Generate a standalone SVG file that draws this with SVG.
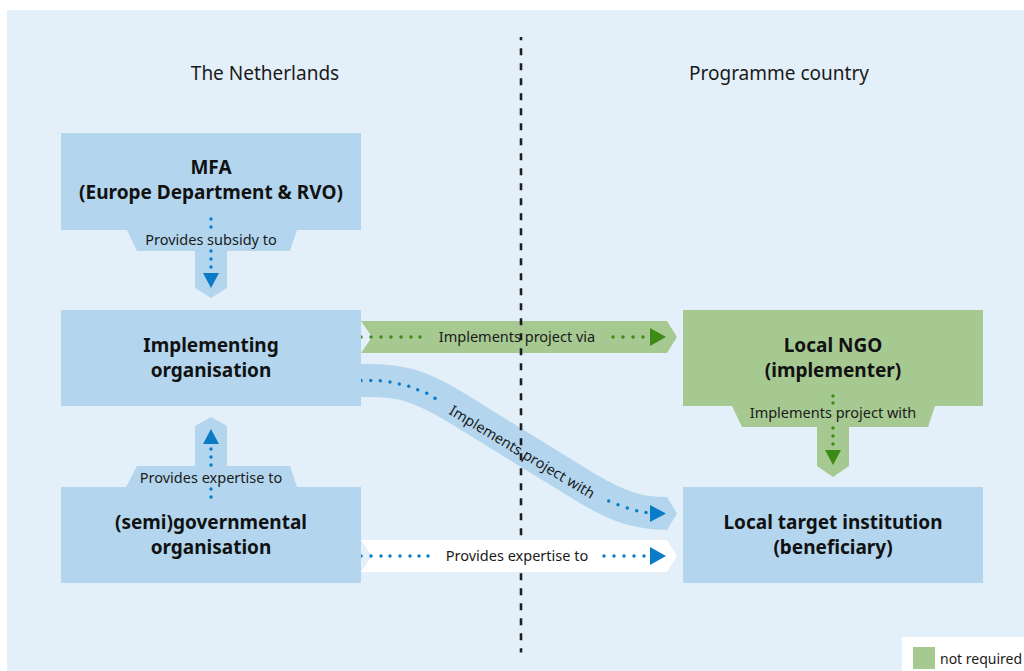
<svg xmlns="http://www.w3.org/2000/svg" width="1024" height="671" viewBox="0 0 1024 671">
<defs>
<style>
.bg{fill:#e4f0f9}
.blue{fill:#b3d6ee}
.green{fill:#a6c992}
.white{fill:#ffffff}
.head{font-family:"Noto Sans","Open Sans",sans-serif;font-size:19px;fill:#1a1a1a;text-anchor:middle}
.lbl{font-family:"Noto Sans","Open Sans",sans-serif;font-size:19px;font-weight:bold;fill:#111;text-anchor:middle}
.sm{font-family:"Noto Sans","Open Sans",sans-serif;font-size:14.5px;fill:#1a1a1a;text-anchor:middle}
.bd{fill:#0b7bc7}
.gd{fill:#3e8a16}
.dash{stroke:#1e1e1e;stroke-width:2.6;stroke-dasharray:7 8;fill:none}
</style>
</defs>
<rect x="0" y="0" width="1024" height="671" fill="#ffffff"/>
<rect class="bg" x="7" y="10" width="1017" height="661"/>
<text class="head" x="265" y="80">The Netherlands</text>
<text class="head" x="779" y="80">Programme country</text>

<g id="connectors">
<g id="c-impl-ngo">
<path class="green" d="M361 321 H667 L677 337 L667 353 H361 L372 337 Z"/>
<g class="gd">
<circle cx="351" cy="337" r="1.7"/><circle cx="361" cy="337" r="1.7"/><circle cx="371" cy="337" r="1.7"/><circle cx="381" cy="337" r="1.7"/><circle cx="391" cy="337" r="1.7"/><circle cx="401" cy="337" r="1.7"/><circle cx="411" cy="337" r="1.7"/><circle cx="420" cy="337" r="1.7"/>
<circle cx="613" cy="337" r="1.7"/><circle cx="623" cy="337" r="1.7"/><circle cx="633" cy="337" r="1.7"/><circle cx="643" cy="337" r="1.7"/>
<polygon points="650,328 666,337 650,346"/>
</g>
<text class="sm" x="517" y="342">Implements project via</text>
</g>
<g id="c-impl-target">
<path d="M361 380.5 L370 380.5 C400 380.5 420 385 460 410 L585 487 C620 508 640 513.5 667 513.5" stroke="#b3d6ee" stroke-width="33" fill="none"/>
<polygon class="blue" points="667,497 677,513.5 667,530"/>
<g class="bd">
<circle cx="351.7" cy="380.5" r="1.7"/><circle cx="361" cy="380.5" r="1.7"/><circle cx="370.7" cy="380.5" r="1.7"/><circle cx="380.3" cy="380.8" r="1.7"/><circle cx="390" cy="382" r="1.7"/><circle cx="399.3" cy="384" r="1.7"/><circle cx="408.7" cy="386.3" r="1.7"/><circle cx="417.7" cy="389.7" r="1.7"/><circle cx="426.7" cy="393.3" r="1.7"/><circle cx="435" cy="398.3" r="1.7"/>
<circle cx="608.7" cy="501" r="1.7"/><circle cx="618" cy="504.7" r="1.7"/><circle cx="627.3" cy="508" r="1.7"/><circle cx="636.7" cy="510.7" r="1.7"/><circle cx="646" cy="512.5" r="1.7"/>
<polygon points="650,505 666,513.5 650,522"/>
</g>
<text class="sm" x="522" y="457" transform="rotate(31 522 452)">Implements project with</text>
</g>
</g>

<path class="dash" d="M521 37 V540" stroke-dashoffset="3.7"/>
<path class="dash" d="M521 572 V652.5" stroke-dashoffset="13.7"/>

<g id="c-semi-target">
<path class="white" d="M361 540 H667 L677 556 L667 572 H361 L372 556 Z"/>
<g class="bd">
<circle cx="351" cy="556" r="1.7"/><circle cx="361" cy="556" r="1.7"/><circle cx="371" cy="556" r="1.7"/><circle cx="381" cy="556" r="1.7"/><circle cx="390" cy="556" r="1.7"/><circle cx="400" cy="556" r="1.7"/><circle cx="410" cy="556" r="1.7"/><circle cx="419" cy="556" r="1.7"/><circle cx="428" cy="556" r="1.7"/>
<circle cx="604" cy="556" r="1.7"/><circle cx="614" cy="556" r="1.7"/><circle cx="624" cy="556" r="1.7"/><circle cx="634" cy="556" r="1.7"/><circle cx="644" cy="556" r="1.7"/>
<polygon points="650,547 666,556 650,565"/>
</g>
<text class="sm" x="517" y="561">Provides expertise to</text>
</g>

<g id="n-mfa">
<path class="blue" d="M61 133 H361 V230 H297 L290 251 H227 V288 L211 298 L195 288 V251 H137 L127 230 H61 Z"/>
<text class="lbl" x="211" y="174">MFA</text>
<text class="lbl" x="211" y="199">(Europe Department &amp; RVO)</text>
<text class="sm" x="211" y="245">Provides subsidy to</text>
<g class="bd">
<circle cx="211" cy="219" r="1.7"/><circle cx="211" cy="227" r="1.7"/><circle cx="211" cy="251" r="1.7"/><circle cx="211" cy="259" r="1.7"/><circle cx="211" cy="267" r="1.7"/>
<polygon points="203,273 219,273 211,288"/>
</g>
</g>

<g id="n-impl">
<rect class="blue" x="61" y="310" width="300" height="96"/>
<text class="lbl" x="211" y="352">Implementing</text>
<text class="lbl" x="211" y="377">organisation</text>
</g>

<g id="n-semi">
<path class="blue" d="M61 487 H126 L137 466 H195 V426 L211 417 L227 426 V466 H290 L297 487 H361 V583 H61 Z"/>
<g class="bd">
<polygon points="211,429 219,444 203,444"/>
<circle cx="211" cy="449" r="1.7"/><circle cx="211" cy="457" r="1.7"/><circle cx="211" cy="465" r="1.7"/><circle cx="211" cy="489" r="1.7"/><circle cx="211" cy="497" r="1.7"/>
</g>
<text class="sm" x="211" y="483">Provides expertise to</text>
<text class="lbl" x="211" y="529">(semi)governmental</text>
<text class="lbl" x="211" y="554">organisation</text>
</g>

<g id="n-ngo">
<path class="green" d="M683 310 H983 V406 H935 L928 427 H849 V466 L833 477 L817 466 V427 H742 L732 406 H683 Z"/>
<text class="lbl" x="833" y="352">Local NGO</text>
<text class="lbl" x="833" y="377">(implementer)</text>
<g class="gd">
<circle cx="833" cy="396" r="1.7"/><circle cx="833" cy="403" r="1.7"/><circle cx="833" cy="428" r="1.7"/><circle cx="833" cy="436" r="1.7"/><circle cx="833" cy="444" r="1.7"/>
<polygon points="825,450 841,450 833,465"/>
</g>
<text class="sm" x="833" y="418">Implements project with</text>
</g>

<g id="n-target">
<rect class="blue" x="683" y="487" width="300" height="96"/>
<text class="lbl" x="833" y="529">Local target institution</text>
<text class="lbl" x="833" y="554">(beneficiary)</text>
</g>

<g id="legend">
<rect class="white" x="902" y="637" width="122" height="34"/>
<rect class="green" x="913" y="647" width="22" height="22"/>
<text x="940" y="664" font-family="Noto Sans, Open Sans, sans-serif" font-size="14" fill="#1a1a1a">not required</text>
</g>
</svg>
